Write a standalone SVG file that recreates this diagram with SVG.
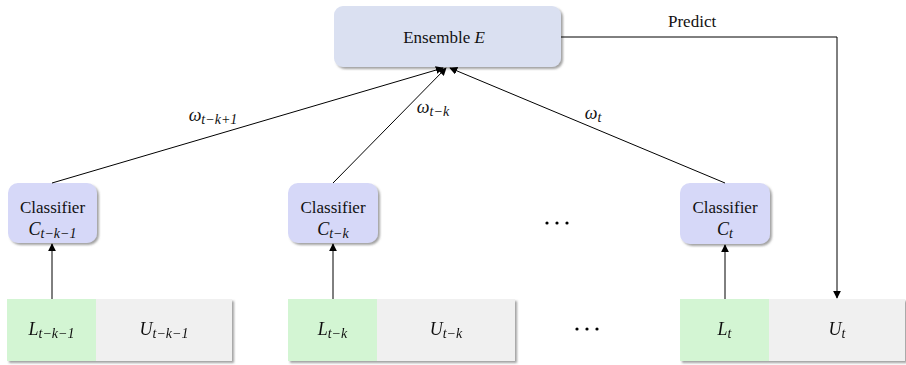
<svg xmlns="http://www.w3.org/2000/svg" width="906" height="365" viewBox="0 0 906 365">
  <defs>
    <filter id="shadow" x="-10%" y="-10%" width="125%" height="130%">
      <feDropShadow dx="2" dy="2" stdDeviation="1.2" flood-color="#555" flood-opacity="0.55"/>
    </filter>
    <marker id="arrow" viewBox="0 0 10 10" refX="9" refY="5" markerWidth="8" markerHeight="8" markerUnits="userSpaceOnUse" orient="auto">
      <path d="M0,0 L10,5 L0,10 z" fill="#000"/>
    </marker>
  </defs>
  <style>
    text { font-family: "Liberation Serif", "Times New Roman", "DejaVu Serif", serif; fill: #111; }
    .txt { font-size: 17px; }
    .math { font-style: italic; font-size: 18px; }
    .sub { font-size: 14px; }
    .ens { fill: #dae0f1; }
    .cls { fill: #d6d8f8; }
    .lab { fill: #d3f5d3; }
    .unl { fill: #f0f0f0; }
    .edge { stroke: #000; stroke-width: 1; fill: none; }
    .dot { fill: #000; }
  </style>

  <!-- ensemble node -->
  <g id="ensemble">
    <rect class="ens" x="334" y="6" width="227" height="61" rx="9" filter="url(#shadow)"/>
    <text class="txt" x="444" y="43" text-anchor="middle">Ensemble <tspan font-style="italic">E</tspan></text>
  </g>

  <!-- classifiers -->
  <g id="classifier-t-k-1">
    <rect class="cls" x="8" y="183" width="89" height="60" rx="10" filter="url(#shadow)"/>
    <text class="txt" x="52.5" y="213" text-anchor="middle">Classifier</text>
    <text class="math" x="52.5" y="235" text-anchor="middle">C<tspan class="sub" dy="3">t−k−1</tspan></text>
  </g>
  <g id="classifier-t-k">
    <rect class="cls" x="288" y="183" width="90" height="60" rx="10" filter="url(#shadow)"/>
    <text class="txt" x="333" y="213" text-anchor="middle">Classifier</text>
    <text class="math" x="333" y="235" text-anchor="middle">C<tspan class="sub" dy="3">t−k</tspan></text>
  </g>
  <g id="classifier-t">
    <rect class="cls" x="680" y="183" width="90" height="61" rx="10" filter="url(#shadow)"/>
    <text class="txt" x="725" y="213" text-anchor="middle">Classifier</text>
    <text class="math" x="725" y="235" text-anchor="middle">C<tspan class="sub" dy="3">t</tspan></text>
  </g>

  <!-- data chunks: labelled part L and unlabelled part U -->
  <g id="chunk-t-k-1" filter="url(#shadow)">
    <rect class="lab" x="7" y="299" width="89" height="62"/>
    <rect class="unl" x="96" y="299" width="136" height="62"/>
    <text class="math" x="51.5" y="335" text-anchor="middle">L<tspan class="sub" dy="3">t−k−1</tspan></text>
    <text class="math" x="164" y="335" text-anchor="middle">U<tspan class="sub" dy="3">t−k−1</tspan></text>
  </g>
  <g id="chunk-t-k" filter="url(#shadow)">
    <rect class="lab" x="288" y="299" width="89" height="62"/>
    <rect class="unl" x="377" y="299" width="138" height="62"/>
    <text class="math" x="332.5" y="335" text-anchor="middle">L<tspan class="sub" dy="3">t−k</tspan></text>
    <text class="math" x="446" y="335" text-anchor="middle">U<tspan class="sub" dy="3">t−k</tspan></text>
  </g>
  <g id="chunk-t" filter="url(#shadow)">
    <rect class="lab" x="680" y="299" width="89" height="62"/>
    <rect class="unl" x="769" y="299" width="136" height="62"/>
    <text class="math" x="724.5" y="335" text-anchor="middle">L<tspan class="sub" dy="3">t</tspan></text>
    <text class="math" x="837" y="335" text-anchor="middle">U<tspan class="sub" dy="3">t</tspan></text>
  </g>

  <!-- ellipses -->
  <g id="ellipsis-classifiers">
    <circle class="dot" cx="547" cy="223" r="1.6"/>
    <circle class="dot" cx="557" cy="223" r="1.6"/>
    <circle class="dot" cx="567" cy="223" r="1.6"/>
  </g>
  <g id="ellipsis-chunks">
    <circle class="dot" cx="577" cy="329" r="1.6"/>
    <circle class="dot" cx="587" cy="329" r="1.6"/>
    <circle class="dot" cx="597" cy="329" r="1.6"/>
  </g>

  <!-- connectors -->
  <g id="connectors">
    <line class="edge" x1="52" y1="183" x2="443" y2="68" marker-end="url(#arrow)"/>
    <line class="edge" x1="333" y1="183" x2="446" y2="68" marker-end="url(#arrow)"/>
    <line class="edge" x1="725" y1="183" x2="450" y2="68" marker-end="url(#arrow)"/>
    <line class="edge" x1="52" y1="299" x2="52" y2="244" marker-end="url(#arrow)"/>
    <line class="edge" x1="333" y1="299" x2="333" y2="244" marker-end="url(#arrow)"/>
    <line class="edge" x1="725" y1="299" x2="725" y2="245" marker-end="url(#arrow)"/>
    <polyline class="edge" points="561,37 837,37 837,298" marker-end="url(#arrow)"/>
    <text class="math" x="213" y="121" text-anchor="middle">ω<tspan class="sub" dy="3">t−k+1</tspan></text>
    <text class="math" x="433" y="113" text-anchor="middle">ω<tspan class="sub" dy="3">t−k</tspan></text>
    <text class="math" x="593" y="119" text-anchor="middle">ω<tspan class="sub" dy="3">t</tspan></text>
    <text class="txt" x="668" y="27">Predict</text>
  </g>
</svg>
